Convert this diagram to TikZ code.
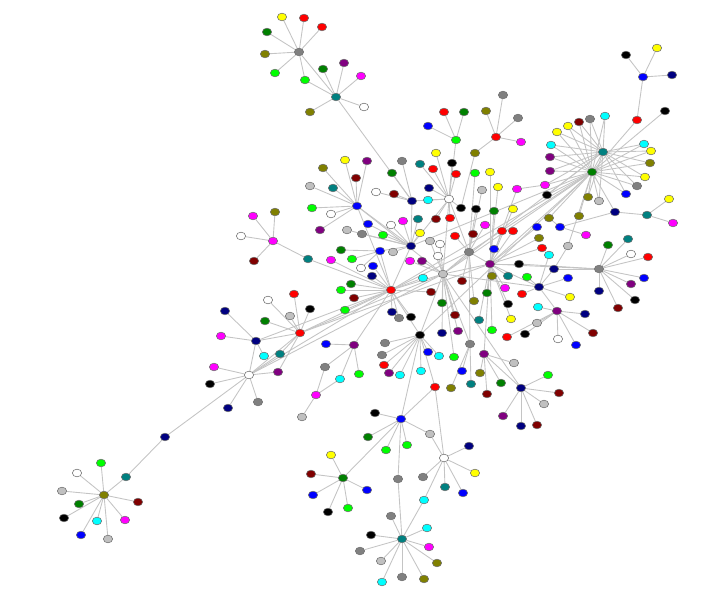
\documentclass[tikz,border=0pt]{standalone}
\usetikzlibrary{shapes.geometric,backgrounds}

\definecolor{cred}{HTML}{FF0000}
\definecolor{clime}{HTML}{00FF00}
\definecolor{cdkgreen}{HTML}{008000}
\definecolor{colive}{HTML}{808000}
\definecolor{cteal}{HTML}{008080}
\definecolor{cnavy}{HTML}{000080}
\definecolor{cblue}{HTML}{0000FF}
\definecolor{cpurple}{HTML}{800080}
\definecolor{cmaroon}{HTML}{800000}
\definecolor{cmagenta}{HTML}{FF00FF}
\definecolor{ccyan}{HTML}{00FFFF}
\definecolor{cyellow}{HTML}{FFFF00}
\definecolor{cgray}{HTML}{808080}
\definecolor{csilver}{HTML}{C0C0C0}
\definecolor{cedge}{HTML}{C4C4C4}
\definecolor{crim}{HTML}{707070}

\tikzset{
  v/.style={ellipse, draw=crim, line width=0.5pt, minimum width=0.28cm, minimum height=0.23cm, inner sep=0pt},
  link/.style={draw=cedge, line width=0.75pt}
}

\begin{document}
\begin{tikzpicture}[x=0.03cm, y=-0.03cm]
      \useasboundingbox (0,0) rectangle (722,599);

      \node[v,fill=cgray] (a) at (299,52) {};
      \node[v,fill=cyellow] (a1) at (282,17) {};
      \node[v,fill=cred] (a2) at (304,18) {};
      \node[v,fill=cred] (a3) at (322,27) {};
      \node[v,fill=cdkgreen] (a4) at (267,32) {};
      \node[v,fill=colive] (a5) at (265,54) {};
      \node[v,fill=clime] (a6) at (275,73) {};
      \node[v,fill=clime] (a7) at (305,80) {};

      \node[v,fill=cteal] (b) at (336,97) {};
      \node[v,fill=cdkgreen] (b1) at (323,69) {};
      \node[v,fill=cpurple] (b2) at (344,63) {};
      \node[v,fill=cmagenta] (b3) at (361,76) {};
      \node[v,fill=white] (b4) at (364,107) {};
      \node[v,fill=colive] (b5) at (310,112) {};

      \node[v,fill=cblue] (c) at (643,77) {};
      \node[v,fill=black] (c1) at (626,55) {};
      \node[v,fill=cyellow] (c2) at (657,48) {};
      \node[v,fill=cnavy] (c3) at (672,75) {};
      \node[v,fill=cred] (c4) at (637,120) {};
      \node[v,fill=black] (c5) at (665,111) {};

      \node[v,fill=cteal] (d) at (603,152) {};
      \node[v,fill=cdkgreen] (e) at (592,172) {};
      \node[v,fill=ccyan] (d1) at (605,116) {};
      \node[v,fill=cgray] (d2) at (590,119) {};
      \node[v,fill=cmaroon] (d3) at (579,122) {};
      \node[v,fill=cyellow] (d4) at (568,126) {};
      \node[v,fill=cyellow] (d5) at (557,132) {};
      \node[v,fill=ccyan] (d6) at (551,145) {};
      \node[v,fill=cpurple] (d7) at (550,157) {};
      \node[v,fill=cpurple] (d8) at (550,171) {};
      \node[v,fill=cmagenta] (d9) at (545,185) {};
      \node[v,fill=black] (d10) at (547,195) {};
      \node[v,fill=colive] (d11) at (588,197) {};
      \node[v,fill=csilver] (d12) at (599,201) {};
      \node[v,fill=cblue] (d13) at (626,194) {};
      \node[v,fill=cgray] (d14) at (637,186) {};
      \node[v,fill=cyellow] (d15) at (645,177) {};
      \node[v,fill=colive] (d16) at (650,163) {};
      \node[v,fill=cyellow] (d17) at (651,151) {};
      \node[v,fill=ccyan] (d18) at (644,144) {};

      \node[v,fill=colive] (e1) at (549,218) {};
      \node[v,fill=colive] (e2) at (579,216) {};
      \node[v,fill=cblue] (e3) at (560,227) {};
      \node[v,fill=cmagenta] (e4) at (586,235) {};
      \node[v,fill=cnavy] (e5) at (615,212) {};
      \node[v,fill=cteal] (e6) at (647,215) {};
      \node[v,fill=cyellow] (e7) at (669,199) {};
      \node[v,fill=cmagenta] (e8) at (673,223) {};

      \node[v,fill=cred] (f) at (496,137) {};
      \node[v,fill=colive] (f1) at (486,111) {};
      \node[v,fill=cgray] (f2) at (503,95) {};
      \node[v,fill=cgray] (f3) at (518,118) {};
      \node[v,fill=cmagenta] (f4) at (521,142) {};
      \node[v,fill=colive] (f5) at (475,153) {};

      \node[v,fill=clime] (g) at (456,140) {};
      \node[v,fill=cred] (g1) at (444,112) {};
      \node[v,fill=cdkgreen] (g2) at (464,112) {};
      \node[v,fill=cblue] (g3) at (428,126) {};

      \node[v,fill=white] (w) at (449,199) {};
      \node[v,fill=cyellow] (w1) at (436,153) {};
      \node[v,fill=black] (w2) at (452,163) {};
      \node[v,fill=cred] (w3) at (433,169) {};
      \node[v,fill=cred] (w4) at (456,174) {};
      \node[v,fill=cnavy] (w5) at (429,188) {};
      \node[v,fill=ccyan] (w6) at (428,200) {};
      \node[v,fill=cmaroon] (w7) at (436,219) {};
      \node[v,fill=cred] (w8) at (450,218) {};
      \node[v,fill=cteal] (w9) at (420,164) {};
      \node[v,fill=black] (w10) at (461,208) {};

      \node[v,fill=cnavy] (n) at (412,201) {};
      \node[v,fill=cgray] (n1) at (402,161) {};
      \node[v,fill=cdkgreen] (n2) at (392,173) {};
      \node[v,fill=white] (n3) at (376,192) {};
      \node[v,fill=cmaroon] (n4) at (394,194) {};

      \node[v,fill=cblue] (k) at (357,206) {};
      \node[v,fill=cyellow] (k1) at (345,160) {};
      \node[v,fill=cpurple] (k2) at (367,161) {};
      \node[v,fill=cmaroon] (k3) at (356,178) {};
      \node[v,fill=colive] (k4) at (323,168) {};
      \node[v,fill=cteal] (k5) at (333,188) {};
      \node[v,fill=csilver] (k6) at (310,186) {};
      \node[v,fill=clime] (k7) at (312,208) {};
      \node[v,fill=white] (k8) at (331,214) {};
      \node[v,fill=cpurple] (k9) at (320,230) {};

      \node[v,fill=cmagenta] (h) at (273,241) {};
      \node[v,fill=cmagenta] (h1) at (253,216) {};
      \node[v,fill=colive] (h2) at (275,212) {};
      \node[v,fill=white] (h3) at (241,236) {};
      \node[v,fill=cmaroon] (h4) at (254,261) {};
      \node[v,fill=cteal] (h5) at (308,259) {};

      \node[v,fill=cred] (i) at (300,333) {};
      \node[v,fill=cred] (i1) at (294,294) {};
      \node[v,fill=white] (i2) at (268,300) {};
      \node[v,fill=black] (i3) at (310,309) {};
      \node[v,fill=csilver] (i4) at (290,316) {};
      \node[v,fill=cdkgreen] (i5) at (265,321) {};
      \node[v,fill=cteal] (i6) at (280,354) {};

      \node[v,fill=cnavy] (j) at (256,341) {};
      \node[v,fill=cnavy] (j1) at (225,311) {};
      \node[v,fill=cmagenta] (j2) at (221,336) {};
      \node[v,fill=ccyan] (j3) at (264,356) {};

      \node[v,fill=white] (l) at (249,375) {};
      \node[v,fill=cmagenta] (l1) at (214,367) {};
      \node[v,fill=black] (l2) at (210,384) {};
      \node[v,fill=cnavy] (l3) at (228,408) {};
      \node[v,fill=cgray] (l4) at (258,402) {};
      \node[v,fill=cpurple] (l5) at (278,372) {};
      \node[v,fill=cnavy] (l6) at (165,437) {};

      \node[v,fill=colive] (o) at (104,495) {};
      \node[v,fill=clime] (o1) at (101,463) {};
      \node[v,fill=white] (o2) at (77,473) {};
      \node[v,fill=cteal] (o3) at (126,477) {};
      \node[v,fill=csilver] (o4) at (62,491) {};
      \node[v,fill=cmaroon] (o5) at (138,502) {};
      \node[v,fill=cdkgreen] (o6) at (79,504) {};
      \node[v,fill=black] (o7) at (64,518) {};
      \node[v,fill=ccyan] (o8) at (97,521) {};
      \node[v,fill=cmagenta] (o9) at (125,520) {};
      \node[v,fill=cblue] (o10) at (81,535) {};
      \node[v,fill=csilver] (o11) at (108,539) {};

      \node[v,fill=cpurple] (u) at (354,345) {};
      \node[v,fill=cblue] (u1) at (326,344) {};
      \node[v,fill=cgray] (u2) at (325,367) {};
      \node[v,fill=ccyan] (u3) at (340,379) {};
      \node[v,fill=clime] (u4) at (359,374) {};
      \node[v,fill=cmagenta] (u5) at (316,395) {};
      \node[v,fill=csilver] (u6) at (302,417) {};

      \node[v,fill=cblue] (vb) at (380,251) {};
      \node[v,fill=cdkgreen] (vb1) at (341,250) {};
      \node[v,fill=clime] (vb2) at (352,259) {};
      \node[v,fill=white] (vb3) at (361,268) {};
      \node[v,fill=cmagenta] (vb4) at (331,260) {};

      \node[v,fill=cred] (r) at (391,290) {};
      \node[v,fill=cblue] (r1) at (373,266) {};
      \node[v,fill=cnavy] (r2) at (372,276) {};
      \node[v,fill=cdkgreen] (r3) at (351,284) {};
      \node[v,fill=clime] (r4) at (341,290) {};
      \node[v,fill=cmaroon] (r5) at (354,298) {};
      \node[v,fill=clime] (r6) at (345,310) {};
      \node[v,fill=cnavy] (r7) at (392,312) {};
      \node[v,fill=cgray] (r8) at (399,318) {};
      \node[v,fill=black] (r9) at (411,317) {};
      \node[v,fill=cmaroon] (r10) at (431,292) {};
      \node[v,fill=ccyan] (r11) at (423,278) {};

      \node[v,fill=cnavy] (t) at (411,246) {};
      \node[v,fill=csilver] (t1) at (393,252) {};
      \node[v,fill=clime] (t2) at (383,235) {};
      \node[v,fill=white] (t3) at (391,225) {};
      \node[v,fill=cmagenta] (t4) at (403,221) {};
      \node[v,fill=cteal] (t5) at (418,219) {};
      \node[v,fill=cblue] (t6) at (368,224) {};
      \node[v,fill=cgray] (t7) at (362,234) {};
      \node[v,fill=csilver] (t8) at (347,230) {};
      \node[v,fill=cyellow] (t9) at (420,233) {};

      \node[v,fill=csilver] (m) at (443,274) {};
      \node[v,fill=cpurple] (m1) at (422,261) {};
      \node[v,fill=cmagenta] (m2) at (410,261) {};
      \node[v,fill=white] (m3) at (438,256) {};
      \node[v,fill=white] (m4) at (440,244) {};
      \node[v,fill=csilver] (m5) at (430,241) {};
      \node[v,fill=cdkgreen] (m6) at (442,303) {};
      \node[v,fill=cmaroon] (m7) at (455,315) {};
      \node[v,fill=cnavy] (m8) at (442,333) {};
      \node[v,fill=cpurple] (m9) at (458,331) {};
      \node[v,fill=clime] (m10) at (454,357) {};

      \node[v,fill=cgray] (q) at (469,252) {};
      \node[v,fill=cred] (q1) at (455,236) {};
      \node[v,fill=cmaroon] (q2) at (473,234) {};
      \node[v,fill=cmagenta] (q3) at (485,225) {};
      \node[v,fill=black] (q4) at (476,209) {};
      \node[v,fill=clime] (q5) at (475,173) {};
      \node[v,fill=csilver] (q6) at (482,190) {};
      \node[v,fill=cmaroon] (q7) at (462,281) {};
      \node[v,fill=colive] (q8) at (474,301) {};

      \node[v,fill=cpurple] (p) at (490,264) {};
      \node[v,fill=cred] (p1) at (502,231) {};
      \node[v,fill=cred] (p2) at (513,231) {};
      \node[v,fill=cdkgreen] (p3) at (494,211) {};
      \node[v,fill=cyellow] (p4) at (498,187) {};
      \node[v,fill=cyellow] (p5) at (490,172) {};
      \node[v,fill=colive] (p6) at (492,276) {};
      \node[v,fill=cteal] (p7) at (508,276) {};
      \node[v,fill=black] (p8) at (519,264) {};
      \node[v,fill=cmagenta] (p9) at (505,288) {};
      \node[v,fill=cdkgreen] (p10) at (487,293) {};
      \node[v,fill=black] (p11) at (508,304) {};
      \node[v,fill=cteal] (p12) at (479,320) {};
      \node[v,fill=clime] (p13) at (492,330) {};
      \node[v,fill=cyellow] (p14) at (513,209) {};
      \node[v,fill=cmagenta] (p15) at (517,189) {};
      \node[v,fill=cblue] (p16) at (494,249) {};
      \node[v,fill=cblue] (p17) at (537,227) {};
      \node[v,fill=colive] (p18) at (539,238) {};
      \node[v,fill=cred] (p19) at (542,248) {};
      \node[v,fill=cyellow] (p20) at (511,319) {};

      \node[v,fill=black] (x) at (420,335) {};
      \node[v,fill=cgray] (x1) at (385,343) {};
      \node[v,fill=cgray] (x2) at (382,355) {};
      \node[v,fill=cred] (x3) at (384,365) {};
      \node[v,fill=cpurple] (x4) at (389,373) {};
      \node[v,fill=ccyan] (x5) at (400,375) {};
      \node[v,fill=cblue] (x6) at (428,352) {};
      \node[v,fill=ccyan] (x7) at (439,356) {};
      \node[v,fill=ccyan] (x8) at (421,371) {};
      \node[v,fill=cred] (x9) at (435,387) {};

      \node[v,fill=cgray] (y) at (470,344) {};
      \node[v,fill=cblue] (y1) at (462,371) {};
      \node[v,fill=cteal] (y2) at (471,384) {};
      \node[v,fill=colive] (y3) at (451,388) {};

      \node[v,fill=cpurple] (z) at (484,354) {};
      \node[v,fill=csilver] (z1) at (514,363) {};
      \node[v,fill=colive] (z2) at (480,373) {};
      \node[v,fill=cdkgreen] (z3) at (501,383) {};
      \node[v,fill=cmaroon] (z4) at (487,394) {};

      \node[v,fill=cnavy] (P) at (521,388) {};
      \node[v,fill=clime] (P1) at (548,375) {};
      \node[v,fill=cmaroon] (P2) at (559,393) {};
      \node[v,fill=csilver] (P3) at (544,404) {};
      \node[v,fill=cpurple] (P4) at (503,416) {};
      \node[v,fill=cnavy] (P5) at (521,426) {};
      \node[v,fill=cmaroon] (P6) at (537,425) {};

      \node[v,fill=cblue] (Q) at (401,419) {};
      \node[v,fill=black] (Q1) at (375,413) {};
      \node[v,fill=csilver] (Q2) at (430,434) {};
      \node[v,fill=cdkgreen] (Q3) at (368,437) {};
      \node[v,fill=clime] (Q4) at (386,450) {};
      \node[v,fill=clime] (Q5) at (407,445) {};
      \node[v,fill=cgray] (Q6) at (398,479) {};

      \node[v,fill=white] (R) at (444,458) {};
      \node[v,fill=cnavy] (R1) at (469,446) {};
      \node[v,fill=cyellow] (R2) at (475,473) {};
      \node[v,fill=cgray] (R3) at (423,477) {};
      \node[v,fill=cteal] (R4) at (445,487) {};
      \node[v,fill=cblue] (R5) at (463,493) {};
      \node[v,fill=ccyan] (R6) at (424,500) {};

      \node[v,fill=cdkgreen] (S) at (343,478) {};
      \node[v,fill=cyellow] (S1) at (331,455) {};
      \node[v,fill=cmaroon] (S2) at (311,474) {};
      \node[v,fill=cblue] (S3) at (313,495) {};
      \node[v,fill=black] (S4) at (328,512) {};
      \node[v,fill=clime] (S5) at (348,508) {};
      \node[v,fill=cblue] (S6) at (367,490) {};

      \node[v,fill=cteal] (T) at (402,539) {};
      \node[v,fill=cgray] (T1) at (391,516) {};
      \node[v,fill=black] (T2) at (371,535) {};
      \node[v,fill=ccyan] (T3) at (427,528) {};
      \node[v,fill=cmagenta] (T4) at (429,547) {};
      \node[v,fill=colive] (T5) at (437,563) {};
      \node[v,fill=colive] (T6) at (424,579) {};
      \node[v,fill=cgray] (T7) at (402,577) {};
      \node[v,fill=ccyan] (T8) at (382,582) {};
      \node[v,fill=csilver] (T9) at (381,561) {};
      \node[v,fill=cgray] (T10) at (360,551) {};

      \node[v,fill=cgray] (U) at (599,269) {};
      \node[v,fill=cdkgreen] (U1) at (608,245) {};
      \node[v,fill=cteal] (U2) at (628,239) {};
      \node[v,fill=white] (U3) at (631,254) {};
      \node[v,fill=cred] (U4) at (648,257) {};
      \node[v,fill=cblue] (U5) at (644,278) {};
      \node[v,fill=cpurple] (U6) at (631,284) {};
      \node[v,fill=black] (U7) at (635,300) {};
      \node[v,fill=cmaroon] (U8) at (618,308) {};
      \node[v,fill=cnavy] (U9) at (599,291) {};

      \node[v,fill=cnavy] (V) at (539,287) {};
      \node[v,fill=cnavy] (V1) at (554,269) {};
      \node[v,fill=cblue] (V2) at (568,278) {};
      \node[v,fill=cyellow] (V3) at (570,297) {};
      \node[v,fill=cred] (V4) at (522,294) {};
      \node[v,fill=clime] (V5) at (527,277) {};
      \node[v,fill=csilver] (V6) at (568,246) {};
      \node[v,fill=ccyan] (V7) at (549,255) {};

      \node[v,fill=cpurple] (W) at (557,311) {};
      \node[v,fill=cnavy] (W1) at (585,314) {};
      \node[v,fill=cmaroon] (W2) at (593,333) {};
      \node[v,fill=white] (W3) at (558,339) {};
      \node[v,fill=cblue] (W4) at (576,345) {};
      \node[v,fill=ccyan] (W5) at (538,307) {};
      \node[v,fill=csilver] (W6) at (537,323) {};
      \node[v,fill=black] (W7) at (525,334) {};
      \node[v,fill=cred] (W8) at (507,337) {};

      \begin{pgfonlayer}{background}
      \draw[link] (a) -- (a1);
      \draw[link] (a) -- (a2);
      \draw[link] (a) -- (a3);
      \draw[link] (a) -- (a4);
      \draw[link] (a) -- (a5);
      \draw[link] (a) -- (a6);
      \draw[link] (a) -- (a7);
      \draw[link] (a) -- (b);
      \draw[link] (a7) -- (b);

      \draw[link] (b) -- (b1);
      \draw[link] (b) -- (b2);
      \draw[link] (b) -- (b3);
      \draw[link] (b) -- (b4);
      \draw[link] (b) -- (b5);
      \draw[link] (b) -- (n);

      \draw[link] (c) -- (c1);
      \draw[link] (c) -- (c2);
      \draw[link] (c) -- (c3);
      \draw[link] (c) -- (c4);
      \draw[link] (c4) -- (e);
      \draw[link] (c5) -- (e);

      \draw[link] (d) -- (e);
      \draw[link] (d) -- (d1);   \draw[link] (e) -- (d1);
      \draw[link] (d) -- (d2);   \draw[link] (e) -- (d2);
      \draw[link] (d) -- (d3);   \draw[link] (e) -- (d3);
      \draw[link] (d) -- (d4);   \draw[link] (e) -- (d4);
      \draw[link] (d) -- (d5);   \draw[link] (e) -- (d5);
      \draw[link] (d) -- (d6);   \draw[link] (e) -- (d6);
      \draw[link] (d) -- (d7);   \draw[link] (e) -- (d7);
      \draw[link] (d) -- (d8);   \draw[link] (e) -- (d8);
      \draw[link] (d) -- (d9);   \draw[link] (e) -- (d9);
      \draw[link] (d) -- (d10);  \draw[link] (e) -- (d10);
      \draw[link] (d) -- (d11);  \draw[link] (e) -- (d11);
      \draw[link] (d) -- (d12);  \draw[link] (e) -- (d12);
      \draw[link] (d) -- (d13);  \draw[link] (e) -- (d13);
      \draw[link] (d) -- (d14);  \draw[link] (e) -- (d14);
      \draw[link] (d) -- (d15);  \draw[link] (e) -- (d15);
      \draw[link] (d) -- (d16);  \draw[link] (e) -- (d16);
      \draw[link] (d) -- (d17);  \draw[link] (e) -- (d17);
      \draw[link] (d) -- (d18);  \draw[link] (e) -- (d18);

      \draw[link] (e) -- (e1);
      \draw[link] (e) -- (e2);
      \draw[link] (e) -- (e5);
      \draw[link] (e1) -- (e3);
      \draw[link] (e3) -- (e4);
      \draw[link] (e3) -- (e5);
      \draw[link] (e5) -- (e6);
      \draw[link] (e6) -- (e7);
      \draw[link] (e6) -- (e8);
      \draw[link] (e) -- (r);
      \draw[link] (e) -- (m);
      \draw[link] (e) -- (q);
      \draw[link] (e) -- (p);
      \draw[link] (e) -- (t);
      \draw[link] (e) -- (x);
      \draw[link] (e) -- (V6);
      \draw[link] (d) -- (m);

      \draw[link] (f) -- (f1);
      \draw[link] (f) -- (f2);
      \draw[link] (f) -- (f3);
      \draw[link] (f) -- (f4);
      \draw[link] (f) -- (f5);
      \draw[link] (f5) -- (w10);

      \draw[link] (g) -- (g1);
      \draw[link] (g) -- (g2);
      \draw[link] (g) -- (g3);
      \draw[link] (g) -- (w);

      \draw[link] (w) -- (w1);
      \draw[link] (w) -- (w2);
      \draw[link] (w) -- (w3);
      \draw[link] (w) -- (w4);
      \draw[link] (w) -- (w5);
      \draw[link] (w) -- (w6);
      \draw[link] (w) -- (w7);
      \draw[link] (w) -- (w8);
      \draw[link] (w) -- (w9);
      \draw[link] (w) -- (w10);
      \draw[link] (w) -- (n);
      \draw[link] (w) -- (m);
      \draw[link] (w) -- (t);
      \draw[link] (w) -- (q);

      \draw[link] (n) -- (n1);
      \draw[link] (n) -- (n2);
      \draw[link] (n) -- (n3);
      \draw[link] (n) -- (n4);
      \draw[link] (n) -- (t);

      \draw[link] (k) -- (k1);
      \draw[link] (k) -- (k2);
      \draw[link] (k) -- (k3);
      \draw[link] (k) -- (k4);
      \draw[link] (k) -- (k5);
      \draw[link] (k) -- (k6);
      \draw[link] (k) -- (k7);
      \draw[link] (k) -- (k8);
      \draw[link] (k) -- (k9);
      \draw[link] (k) -- (t);
      \draw[link] (k) -- (m);
      \draw[link] (k) -- (r);

      \draw[link] (h) -- (h1);
      \draw[link] (h) -- (h2);
      \draw[link] (h) -- (h3);
      \draw[link] (h) -- (h4);
      \draw[link] (h) -- (h5);
      \draw[link] (h5) -- (r);

      \draw[link] (i) -- (i1);
      \draw[link] (i) -- (i2);
      \draw[link] (i) -- (i3);
      \draw[link] (i) -- (i4);
      \draw[link] (i) -- (i5);
      \draw[link] (i) -- (i6);
      \draw[link] (i) -- (j);
      \draw[link] (i) -- (l);
      \draw[link] (i) -- (r);
      \draw[link] (i) -- (m);
      \draw[link] (i) -- (p);

      \draw[link] (j) -- (j1);
      \draw[link] (j) -- (j2);
      \draw[link] (j) -- (j3);
      \draw[link] (j) -- (l);
      \draw[link] (j) -- (r);

      \draw[link] (l) -- (l1);
      \draw[link] (l) -- (l2);
      \draw[link] (l) -- (l3);
      \draw[link] (l) -- (l4);
      \draw[link] (l) -- (l5);
      \draw[link] (l) -- (l6);
      \draw[link] (l) -- (i6);
      \draw[link] (l) -- (r);
      \draw[link] (l) -- (m);
      \draw[link] (l5) -- (i);
      \draw[link] (l6) -- (o3);

      \draw[link] (o) -- (o1);
      \draw[link] (o) -- (o2);
      \draw[link] (o) -- (o3);
      \draw[link] (o) -- (o4);
      \draw[link] (o) -- (o5);
      \draw[link] (o) -- (o6);
      \draw[link] (o) -- (o7);
      \draw[link] (o) -- (o8);
      \draw[link] (o) -- (o9);
      \draw[link] (o) -- (o10);
      \draw[link] (o) -- (o11);

      \draw[link] (u) -- (u1);
      \draw[link] (u) -- (u2);
      \draw[link] (u) -- (u3);
      \draw[link] (u) -- (u4);
      \draw[link] (u2) -- (u5);
      \draw[link] (u3) -- (u5);
      \draw[link] (u5) -- (u6);
      \draw[link] (u) -- (r);

      \draw[link] (vb) -- (vb1);
      \draw[link] (vb) -- (vb2);
      \draw[link] (vb) -- (vb3);
      \draw[link] (vb4) -- (r);
      \draw[link] (vb) -- (r);
      \draw[link] (vb) -- (t);

      \draw[link] (r) -- (r1);
      \draw[link] (r) -- (r2);
      \draw[link] (r) -- (r3);
      \draw[link] (r) -- (r4);
      \draw[link] (r) -- (r5);
      \draw[link] (r) -- (r6);
      \draw[link] (r) -- (r7);
      \draw[link] (r) -- (r8);
      \draw[link] (r) -- (r9);
      \draw[link] (r) -- (r10);
      \draw[link] (r) -- (r11);
      \draw[link] (r) -- (m);
      \draw[link] (r) -- (t);
      \draw[link] (r) -- (x);
      \draw[link] (r) -- (q);

      \draw[link] (t) -- (t1);
      \draw[link] (t) -- (t2);
      \draw[link] (t) -- (t3);
      \draw[link] (t) -- (t4);
      \draw[link] (t) -- (t5);
      \draw[link] (t) -- (t6);
      \draw[link] (t) -- (t7);
      \draw[link] (t) -- (t8);
      \draw[link] (t) -- (t9);

      \draw[link] (m) -- (m1);
      \draw[link] (m) -- (m2);
      \draw[link] (m) -- (m3);
      \draw[link] (m) -- (m4);
      \draw[link] (m) -- (m5);
      \draw[link] (m) -- (m6);
      \draw[link] (m) -- (m7);
      \draw[link] (m) -- (m8);
      \draw[link] (m) -- (m9);
      \draw[link] (m) -- (m10);
      \draw[link] (m) -- (q);
      \draw[link] (m) -- (p);
      \draw[link] (m) -- (x);
      \draw[link] (m) -- (V);
      \draw[link] (m) -- (y);
      \draw[link] (m) -- (P);

      \draw[link] (q) -- (q1);
      \draw[link] (q) -- (q2);
      \draw[link] (q) -- (q3);
      \draw[link] (q) -- (q4);
      \draw[link] (q) -- (q5);
      \draw[link] (q) -- (q6);
      \draw[link] (q) -- (q7);
      \draw[link] (q) -- (q8);
      \draw[link] (q) -- (p);
      \draw[link] (q) -- (y);

      \draw[link] (p) -- (p1);
      \draw[link] (p) -- (p2);
      \draw[link] (p) -- (p3);
      \draw[link] (p) -- (p4);
      \draw[link] (p) -- (p5);
      \draw[link] (p) -- (p6);
      \draw[link] (p) -- (p7);
      \draw[link] (p) -- (p8);
      \draw[link] (p) -- (p9);
      \draw[link] (p) -- (p10);
      \draw[link] (p) -- (p11);
      \draw[link] (p) -- (p12);
      \draw[link] (p) -- (p13);
      \draw[link] (p) -- (p14);
      \draw[link] (p) -- (p15);
      \draw[link] (p) -- (p16);
      \draw[link] (p) -- (p17);
      \draw[link] (p) -- (p18);
      \draw[link] (p) -- (p19);
      \draw[link] (p) -- (p20);
      \draw[link] (p15) -- (d9);
      \draw[link] (p) -- (U);
      \draw[link] (p) -- (V);
      \draw[link] (p) -- (z);

      \draw[link] (x) -- (x1);
      \draw[link] (x) -- (x2);
      \draw[link] (x) -- (x3);
      \draw[link] (x) -- (x4);
      \draw[link] (x) -- (x5);
      \draw[link] (x) -- (x6);
      \draw[link] (x) -- (x7);
      \draw[link] (x) -- (x8);
      \draw[link] (x) -- (x9);
      \draw[link] (x) -- (Q);

      \draw[link] (y) -- (y1);
      \draw[link] (y) -- (y2);
      \draw[link] (y) -- (y3);

      \draw[link] (z) -- (z1);
      \draw[link] (z) -- (z2);
      \draw[link] (z) -- (z3);
      \draw[link] (z) -- (z4);
      \draw[link] (z) -- (P);

      \draw[link] (P) -- (P1);
      \draw[link] (P) -- (P2);
      \draw[link] (P) -- (P3);
      \draw[link] (P) -- (P4);
      \draw[link] (P) -- (P5);
      \draw[link] (P) -- (P6);

      \draw[link] (Q) -- (Q1);
      \draw[link] (Q) -- (Q2);
      \draw[link] (Q) -- (Q3);
      \draw[link] (Q) -- (Q4);
      \draw[link] (Q) -- (Q5);
      \draw[link] (Q) -- (Q6);
      \draw[link] (Q) -- (S);
      \draw[link] (Q) -- (x9);
      \draw[link] (Q6) -- (T);

      \draw[link] (R) -- (R1);
      \draw[link] (R) -- (R2);
      \draw[link] (R) -- (R3);
      \draw[link] (R) -- (R4);
      \draw[link] (R) -- (R5);
      \draw[link] (R) -- (R6);
      \draw[link] (R) -- (Q2);
      \draw[link] (R) -- (x9);
      \draw[link] (R6) -- (T);

      \draw[link] (S) -- (S1);
      \draw[link] (S) -- (S2);
      \draw[link] (S) -- (S3);
      \draw[link] (S) -- (S4);
      \draw[link] (S) -- (S5);
      \draw[link] (S) -- (S6);

      \draw[link] (T) -- (T1);
      \draw[link] (T) -- (T2);
      \draw[link] (T) -- (T3);
      \draw[link] (T) -- (T4);
      \draw[link] (T) -- (T5);
      \draw[link] (T) -- (T6);
      \draw[link] (T) -- (T7);
      \draw[link] (T) -- (T8);
      \draw[link] (T) -- (T9);
      \draw[link] (T) -- (T10);

      \draw[link] (U) -- (U1);
      \draw[link] (U) -- (U2);
      \draw[link] (U) -- (U3);
      \draw[link] (U) -- (U4);
      \draw[link] (U) -- (U5);
      \draw[link] (U) -- (U6);
      \draw[link] (U) -- (U7);
      \draw[link] (U) -- (U8);
      \draw[link] (U) -- (U9);
      \draw[link] (U) -- (V1);
      \draw[link] (U) -- (p8);

      \draw[link] (V) -- (V1);
      \draw[link] (V) -- (V2);
      \draw[link] (V) -- (V3);
      \draw[link] (V) -- (V4);
      \draw[link] (V) -- (V5);
      \draw[link] (V) -- (V7);
      \draw[link] (V1) -- (V6);
      \draw[link] (V) -- (W);

      \draw[link] (W) -- (W1);
      \draw[link] (W) -- (W2);
      \draw[link] (W) -- (W3);
      \draw[link] (W) -- (W4);
      \draw[link] (W) -- (W5);
      \draw[link] (W) -- (W6);
      \draw[link] (W) -- (W7);
      \draw[link] (W) -- (W8);
      \end{pgfonlayer}

    \end{tikzpicture}
\end{document}
